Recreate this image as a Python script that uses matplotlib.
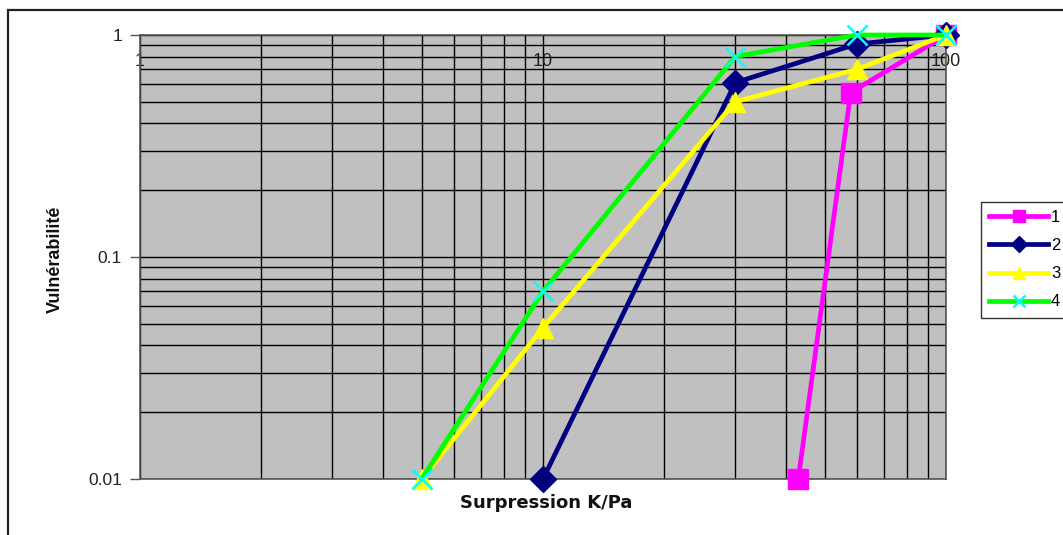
import matplotlib
matplotlib.use("Agg")
import matplotlib.pyplot as plt
from matplotlib.patches import Rectangle
from matplotlib.ticker import LogLocator, FixedLocator, NullFormatter

# Overpressure (K/Pa) and vulnerability for each curve
x1 = [43, 58, 100]
y1 = [0.01, 0.55, 1.0]
x2 = [10, 30, 60, 100]
y2 = [0.01, 0.61, 0.91, 1.0]
x3 = [5, 10, 30, 60, 100]
y3 = [0.01, 0.048, 0.5, 0.7, 1.0]
x4 = [5, 10, 30, 60, 100]
y4 = [0.01, 0.07, 0.8, 1.0, 1.0]
series_labels = ["1", "2", "3", "4"]

x_ticks = [1, 10, 100]
x_tick_labels = ["1", "10", "100"]
y_ticks = [0.01, 0.1, 1]
y_tick_labels = ["0.01", "0.1", "1"]

plt.rcParams["font.family"] = ["Liberation Sans", "DejaVu Sans"]

fig = plt.figure(figsize=(10.63, 5.35), dpi=100)
ax = fig.add_axes([140 / 1063, 1 - 479 / 535, (946 - 140) / 1063, (479 - 35) / 535])
ax.set_facecolor("#c0c0c0")
ax.set_xscale("log")
ax.set_yscale("log")
ax.set_xlim(1, 100)
ax.set_ylim(0.01, 1)

# grid: majors and minors in black
ax.xaxis.set_minor_locator(LogLocator(base=10, subs=range(2, 10)))
ax.yaxis.set_minor_locator(LogLocator(base=10, subs=range(2, 10)))
ax.xaxis.set_minor_formatter(NullFormatter())
ax.yaxis.set_minor_formatter(NullFormatter())
ax.grid(True, which="both", color="black", linewidth=1.0)
ax.set_axisbelow(True)

lw = 3.4
ax.plot(x1, y1, color="#ff00ff", lw=lw, marker="s", ms=15, mec="#ff00ff",
        mfc="#ff00ff", label=series_labels[0], clip_on=False, zorder=3)
ax.plot(x2, y2, color="#000080", lw=lw, marker="D", ms=13, mec="#000080",
        mfc="#000080", label=series_labels[1], clip_on=False, zorder=4)
ax.plot(x3, y3, color="#ffff00", lw=lw, marker="^", ms=15, mec="#ffff00",
        mfc="#ffff00", label=series_labels[2], clip_on=False, zorder=5)
ax.plot(x4, y4, color="#00ff00", lw=lw, marker="x", ms=15, mec="#00ffff",
        mew=1.8, label=series_labels[3], clip_on=False, zorder=6)

# x tick labels sit inside the plot, under the top edge
ax.xaxis.tick_top()
ax.xaxis.set_major_locator(FixedLocator(x_ticks))
ax.set_xticklabels(x_tick_labels)
ax.tick_params(axis="x", which="both", length=0, pad=-25, labelsize=13,
               labelcolor="#222222")
ax.yaxis.set_major_locator(FixedLocator(y_ticks))
ax.set_yticklabels(y_tick_labels)
ax.tick_params(axis="y", which="major", length=7, width=1, color="#555555",
               labelsize=12.5, labelcolor="#222222", pad=6)
ax.tick_params(axis="y", which="minor", length=0)

for s in ax.spines.values():
    s.set_color("#555555")
    s.set_linewidth(1.2)

fig.text(546 / 1063, 1 - 503 / 535, "Surpression K/Pa", ha="center", va="center",
         fontsize=13, fontweight="bold", family=["DejaVu Sans"], color="#111111")
fig.text(55 / 1063, 1 - 259 / 535, "Vulnérabilité", ha="center", va="center",
         rotation=90, fontsize=13, fontweight="bold", color="#111111",
         family=["Liberation Sans Narrow", "Liberation Sans", "DejaVu Sans"])

leg = fig.legend(loc="upper left", bbox_to_anchor=(981 / 1063, 1 - 202 / 535),
                 frameon=True, fancybox=False, edgecolor="black", fontsize=12,
                 handlelength=3.5, handletextpad=0.2, labelspacing=0.78,
                 borderpad=0.5, markerscale=0.6, borderaxespad=0)
leg.get_frame().set_linewidth(1.0)

# outer frame around the whole chart area
fig.patches.append(Rectangle((8 / 1063, -0.2), 1.2, 1 - 10 / 535 + 0.2,
                             transform=fig.transFigure, fill=False,
                             edgecolor="#222222", linewidth=1.6))

fig.savefig("out.png", dpi=100)
